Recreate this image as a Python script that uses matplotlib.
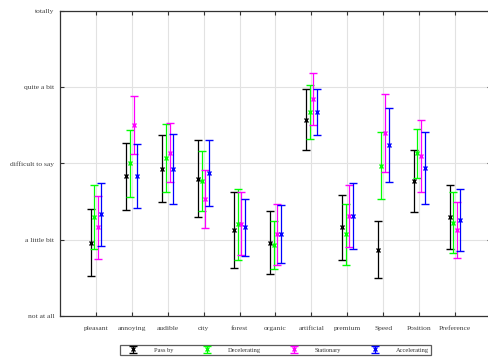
import numpy as np
import matplotlib
matplotlib.use("Agg")
import matplotlib.pyplot as plt

# Rating scale and attributes
levels = ["not at all", "a little bit", "difficult to say", "quite a bit", "totally"]
attributes = ["pleasant", "annoying", "audible", "city", "forest", "organic",
              "artificial", "premium", "Speed", "Position", "Preference"]

# Mean ratings (1 = not at all ... 5 = totally) and error half-widths per condition
pass_by_mean = [1.96, 2.83, 2.93, 2.80, 2.13, 1.96, 3.57, 2.16, 1.87, 2.77, 2.30]
pass_by_err = [0.44, 0.44, 0.44, 0.50, 0.50, 0.41, 0.40, 0.43, 0.37, 0.41, 0.42]

decel_mean = [2.30, 3.00, 3.07, 2.77, 2.20, 1.93, 3.67, 2.07, 2.97, 3.13, 2.22]
decel_err = [0.42, 0.44, 0.45, 0.39, 0.47, 0.32, 0.35, 0.40, 0.44, 0.32, 0.40]

stat_mean = [2.16, 3.50, 3.14, 2.53, 2.21, 2.07, 3.84, 2.31, 3.40, 3.10, 2.13]
stat_err = [0.41, 0.38, 0.39, 0.38, 0.41, 0.40, 0.34, 0.40, 0.51, 0.47, 0.37]

accel_mean = [2.33, 2.83, 2.93, 2.87, 2.16, 2.07, 3.67, 2.31, 3.24, 2.94, 2.26]
accel_err = [0.41, 0.42, 0.46, 0.43, 0.37, 0.38, 0.30, 0.43, 0.49, 0.47, 0.41]

series = [
    ("Pass by", pass_by_mean, pass_by_err, "black"),
    ("Decelerating", decel_mean, decel_err, "#00ff00"),
    ("Stationary", stat_mean, stat_err, "#ff00ff"),
    ("Accelerating", accel_mean, accel_err, "#0000ff"),
]
offsets = [-0.15, -0.05, 0.05, 0.15]

plt.rcParams["font.family"] = ["Liberation Serif", "DejaVu Serif"]

fig = plt.figure(figsize=(4.89, 3.62), dpi=100)
ax = fig.add_axes([60 / 489, 46 / 362, 431 / 489, 305.3 / 362])

x = np.arange(1, len(attributes) + 1)
handles = []
for (name, mean, err, color), off in zip(series, offsets):
    h = ax.errorbar(x + off, mean, yerr=err, fmt="x", color=color,
                    ecolor=color, elinewidth=0.9, capsize=3, capthick=0.9,
                    markersize=3.5, markeredgewidth=1.0, label=name, zorder=3)
    handles.append(h)

ax.set_xlim(0, 12)
ax.set_ylim(1, 5)
ax.set_xticks(x)
ax.set_xticklabels(attributes)
ax.set_yticks(range(1, 6))
ax.set_yticklabels(levels)

ax.grid(True, color="#e2e2e2", linewidth=0.8, zorder=0)
ax.set_axisbelow(True)
for sp in ax.spines.values():
    sp.set_color("#333333")
    sp.set_linewidth(0.9)
ax.tick_params(direction="in", length=3, width=0.8, color="#333333",
               top=True, right=True, labelsize=5.4, labelcolor="#404040")
ax.tick_params(axis="x", pad=7)
ax.tick_params(axis="y", pad=4)

leg = ax.legend(handles=handles, loc="center", bbox_to_anchor=(0.5, -0.111),
                ncol=4, fontsize=4.6, frameon=True, fancybox=False,
                edgecolor="#333333", handlelength=3.5, columnspacing=3.5,
                handletextpad=1.5, borderpad=0.3, labelcolor="#333333")
leg.get_frame().set_linewidth(0.9)

fig.savefig("out.png", dpi=100)
